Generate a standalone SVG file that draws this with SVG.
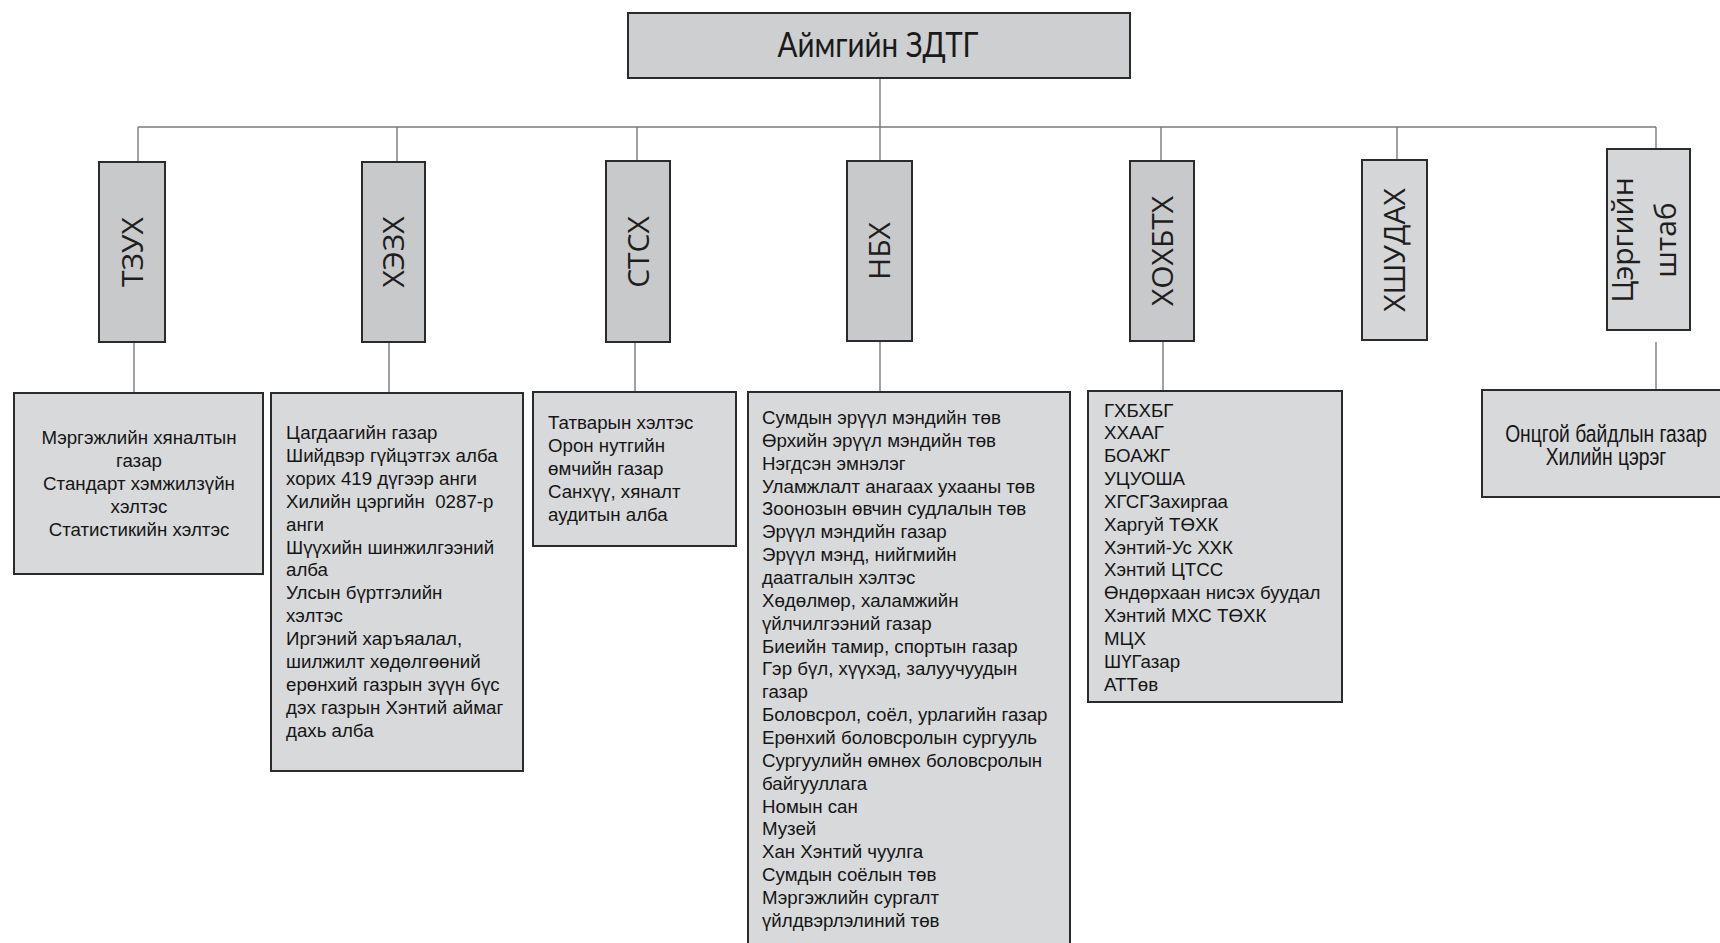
<svg xmlns="http://www.w3.org/2000/svg" width="1720" height="943" viewBox="0 0 1720 943">
<style>
.top{fill:#cdcfd1;stroke:#2b2b2b;stroke-width:2}
.l2{fill:#c8c9cb;stroke:#2b2b2b;stroke-width:2}
.l2b{fill:#d5d6d8;stroke:#2b2b2b;stroke-width:2}
.l3{fill:#d8d9db;stroke:#2b2b2b;stroke-width:2}
.conn{stroke:#7a7a7a;stroke-width:1.4;fill:none}
.vl{font-family:"Open Sans","DejaVu Sans",sans-serif;font-size:30px;fill:#1e1e1e;text-anchor:middle}
.bt{font-family:"Liberation Sans",Arial,sans-serif;font-size:18.7px;fill:#151515}
.ctr{text-anchor:middle}
.title{font-family:Lato,"Open Sans",sans-serif;font-size:35px;fill:#1a1a1a;text-anchor:middle}
.nar{font-family:"Liberation Sans",Arial,sans-serif;font-size:23.5px;fill:#151515;text-anchor:middle}
</style>
<rect width="1720" height="943" fill="#ffffff"/>
<g id="connectors">
<line class="conn" x1="880" y1="79" x2="880" y2="162"/>
<line class="conn" x1="138" y1="127" x2="1656" y2="127"/>
<line class="conn" x1="138" y1="127" x2="138" y2="162"/>
<line class="conn" x1="397" y1="127" x2="397" y2="162"/>
<line class="conn" x1="637" y1="127" x2="637" y2="161"/>
<line class="conn" x1="1161" y1="127" x2="1161" y2="161"/>
<line class="conn" x1="1397" y1="127" x2="1397" y2="160"/>
<line class="conn" x1="1656" y1="127" x2="1656" y2="149"/>
<line class="conn" x1="134" y1="342" x2="134" y2="393"/>
<line class="conn" x1="389" y1="342" x2="389" y2="393"/>
<line class="conn" x1="635" y1="342" x2="635" y2="392"/>
<line class="conn" x1="880" y1="341" x2="880" y2="392"/>
<line class="conn" x1="1163" y1="341" x2="1163" y2="391"/>
<line class="conn" x1="1656" y1="342" x2="1656" y2="390"/>
</g>
<g id="n-top">
<rect class="top" x="628" y="13" width="502" height="65"/>
<text class="title" x="878" y="57" textLength="201" lengthAdjust="spacingAndGlyphs">Аймгийн ЗДТГ</text>
</g>
<g id="n-tzux">
<rect class="l2" x="99" y="162" width="66" height="180"/>
<text class="vl" transform="translate(132,252) rotate(-90)" x="0" y="10.7">ТЗУХ</text>
</g>
<g id="n-hezh">
<rect class="l2" x="362" y="162" width="63" height="180"/>
<text class="vl" transform="translate(393.5,252) rotate(-90)" x="0" y="10.7">ХЭЗХ</text>
</g>
<g id="n-stsh">
<rect class="l2" x="606" y="161" width="64" height="181"/>
<text class="vl" transform="translate(638,252) rotate(-90)" x="0" y="10.7">СТСХ</text>
</g>
<g id="n-nbh">
<rect class="l2" x="847" y="161" width="65" height="180"/>
<text class="vl" transform="translate(879.5,251) rotate(-90)" x="0" y="10.7">НБХ</text>
</g>
<g id="n-hohbth">
<rect class="l2" x="1130" y="161" width="64" height="180"/>
<text class="vl" transform="translate(1162,251) rotate(-90)" x="0" y="10.7">ХОХБТХ</text>
</g>
<g id="n-hshudah">
<rect class="l2b" x="1362" y="160" width="65" height="180"/>
<text class="vl" transform="translate(1394.5,250) rotate(-90)" x="0" y="10.7">ХШУДАХ</text>
</g>
<g id="n-shtab">
<rect class="l2b" x="1607" y="149" width="83" height="181"/>
<text class="vl" transform="translate(1648.5,240) rotate(-90)" x="0"><tspan x="0" y="-16">Цэргийн</tspan><tspan x="0" y="27">штаб</tspan></text>
</g>
<g id="n-tzux-sub">
<rect class="l3" x="14" y="393" width="249" height="181"/>
<text class="bt ctr"><tspan x="139" y="443.5">Мэргэжлийн хяналтын</tspan><tspan x="139" y="466.5">газар</tspan><tspan x="139" y="489.5">Стандарт хэмжилзүйн</tspan><tspan x="139" y="512.5">хэлтэс</tspan><tspan x="139" y="535.5">Статистикийн хэлтэс</tspan></text>
</g>
<g id="n-hezh-sub">
<rect class="l3" x="271" y="393" width="252" height="378"/>
<text class="bt" xml:space="preserve"><tspan x="286" y="439">Цагдаагийн газар</tspan><tspan x="286" y="461.9">Шийдвэр гүйцэтгэх алба</tspan><tspan x="286" y="484.8">хорих 419 дүгээр анги</tspan><tspan x="286" y="507.7">Хилийн цэргийн  0287-р</tspan><tspan x="286" y="530.6">анги</tspan><tspan x="286" y="553.5">Шүүхийн шинжилгээний</tspan><tspan x="286" y="576.4">алба</tspan><tspan x="286" y="599.3">Улсын бүртгэлийн</tspan><tspan x="286" y="622.2">хэлтэс</tspan><tspan x="286" y="645.1">Иргэний харъяалал,</tspan><tspan x="286" y="668">шилжилт хөдөлгөөний</tspan><tspan x="286" y="690.9">ерөнхий газрын зүүн бүс</tspan><tspan x="286" y="713.8">дэх газрын Хэнтий аймаг</tspan><tspan x="286" y="736.7">дахь алба</tspan></text>
</g>
<g id="n-stsh-sub">
<rect class="l3" x="533" y="392" width="203" height="154"/>
<text class="bt"><tspan x="548" y="429">Татварын хэлтэс</tspan><tspan x="548" y="452">Орон нутгийн</tspan><tspan x="548" y="475">өмчийн газар</tspan><tspan x="548" y="498">Санхүү, хяналт</tspan><tspan x="548" y="521">аудитын алба</tspan></text>
</g>
<g id="n-nbh-sub">
<rect class="l3" x="748" y="392" width="322" height="560"/>
<text class="bt"><tspan x="762" y="424">Сумдын эрүүл мэндийн төв</tspan><tspan x="762" y="446.86">Өрхийн эрүүл мэндийн төв</tspan><tspan x="762" y="469.72">Нэгдсэн эмнэлэг</tspan><tspan x="762" y="492.58">Уламжлалт анагаах ухааны төв</tspan><tspan x="762" y="515.44">Зоонозын өвчин судлалын төв</tspan><tspan x="762" y="538.3">Эрүүл мэндийн газар</tspan><tspan x="762" y="561.16">Эрүүл мэнд, нийгмийн</tspan><tspan x="762" y="584.02">даатгалын хэлтэс</tspan><tspan x="762" y="606.88">Хөдөлмөр, халамжийн</tspan><tspan x="762" y="629.74">үйлчилгээний газар</tspan><tspan x="762" y="652.6">Биеийн тамир, спортын газар</tspan><tspan x="762" y="675.46">Гэр бүл, хүүхэд, залуучуудын</tspan><tspan x="762" y="698.32">газар</tspan><tspan x="762" y="721.18">Боловсрол, соёл, урлагийн газар</tspan><tspan x="762" y="744.04">Ерөнхий боловсролын сургууль</tspan><tspan x="762" y="766.9">Сургуулийн өмнөх боловсролын</tspan><tspan x="762" y="789.76">байгууллага</tspan><tspan x="762" y="812.62">Номын сан</tspan><tspan x="762" y="835.48">Музей</tspan><tspan x="762" y="858.34">Хан Хэнтий чуулга</tspan><tspan x="762" y="881.2">Сумдын соёлын төв</tspan><tspan x="762" y="904.06">Мэргэжлийн сургалт</tspan><tspan x="762" y="926.92">үйлдвэрлэлиний төв</tspan></text>
</g>
<g id="n-hohbth-sub">
<rect class="l3" x="1088" y="391" width="254" height="311"/>
<text class="bt"><tspan x="1104" y="416.5">ГХБХБГ</tspan><tspan x="1104" y="439.35">ХХААГ</tspan><tspan x="1104" y="462.2">БОАЖГ</tspan><tspan x="1104" y="485.05">УЦУОША</tspan><tspan x="1104" y="507.9">ХГСГЗахиргаа</tspan><tspan x="1104" y="530.75">Харгуй ТӨХК</tspan><tspan x="1104" y="553.6">Хэнтий-Ус ХХК</tspan><tspan x="1104" y="576.45">Хэнтий ЦТСС</tspan><tspan x="1104" y="599.3">Өндөрхаан нисэх буудал</tspan><tspan x="1104" y="622.15">Хэнтий МХС ТӨХК</tspan><tspan x="1104" y="645">МЦХ</tspan><tspan x="1104" y="667.85">ШҮГазар</tspan><tspan x="1104" y="690.7">АТТөв</tspan></text>
</g>
<g id="n-shtab-sub">
<rect class="l3" x="1482" y="390" width="250" height="107"/>
<g transform="translate(1606,0) scale(0.82,1)">
<text class="nar"><tspan x="0" y="442">Онцгой байдлын газар</tspan><tspan x="0" y="465">Хилийн цэрэг</tspan></text>
</g>
</g>
</svg>
